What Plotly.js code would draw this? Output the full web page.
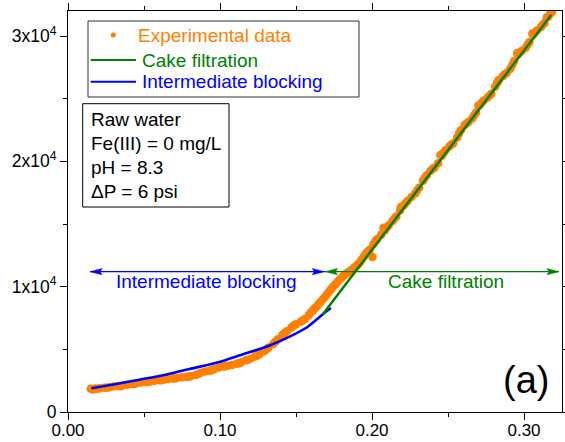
<!DOCTYPE html>
<html>
<head>
<meta charset="utf-8">
<script src="https://cdn.plot.ly/plotly-3.0.1.min.js"></script>
<style>html,body{margin:0;padding:0;background:#fff;}#chart{width:565px;height:442px;}</style>
</head>
<body>
<div id="chart"></div>
<script>
// ---- Data ----
const expX = [0.015,0.018,0.021,0.024,0.027,0.030,0.033,0.036,0.039,0.042,0.045,0.048,0.051,0.054,0.057,0.060,0.063,0.066,0.069,0.072,0.075,0.078,0.081,0.084,0.087,0.090,0.093,0.096,0.099,0.102,0.105,0.108,0.111,0.114,0.117,0.120,0.123,0.126,0.129,0.132,0.135,0.138,0.141,0.144,0.147,0.150,0.153,0.156,
  0.0165,0.0195,0.0255,0.0345,0.0435,0.0525,0.0615,0.0705,0.0795,0.0855,0.0945,0.1035,0.1125,0.1185,0.1245,0.1305,0.1365,0.1425,0.1485,0.1545,
  0.1585,0.161,0.1635,0.166,0.1685,0.171,0.1735,0.176,0.1785,0.181,0.1835,0.186,0.1885,0.191,0.1935,0.196,0.1985,
  0.1598,0.1623,0.1648,0.1673,0.1698,0.1723,0.1748,0.1773,0.1798,0.1823,0.1848,0.1873,0.1898,0.1923,0.1948,0.1973,
  0.2010,0.2035,0.2060,0.2085,0.2110,0.2135,0.2160,0.2185,0.2210,0.2235,0.2260,0.2285,0.2310,0.2335,0.2360,0.2385,0.2410,0.2435,0.2460,0.2485,0.2510,0.2535,0.2560,0.2585,0.2610,0.2635,0.2660,0.2685,0.2710,0.2735,0.2760,0.2785,0.2810,0.2835,0.2860,0.2885,0.2910,0.2935,0.2960,0.2985,0.3010,0.3035,0.3060,0.3085,0.3110,0.3135,0.3160,0.3185,
  0.2023,0.2098,0.2148,0.2223,0.2298,0.2348,0.2398,0.2473,0.2523,0.2573,0.2623,0.2673,0.2723,0.2773,0.2823,0.2873,0.2923,0.2973,0.3023,0.3073,0.3123,0.3173,
  0.2003,0.2075,0.2190,0.2450,0.2700,0.2830,0.2955,0.3055,0.3150,0.3180];
const expY = [1850,1870,1900,1940,1980,2030,2070,2110,2170,2230,2290,2350,2400,2440,2490,2540,2580,2630,2680,2730,2780,2820,2870,2960,3120,3230,3300,3420,3560,3640,3700,3760,3850,3980,4120,4250,4420,4620,4850,5150,5450,5800,6150,6450,6750,7000,7200,7450,
  1800,1860,1930,2050,2230,2390,2530,2680,2820,3030,3330,3650,3900,4170,4500,4980,5600,6300,6900,7300,
  7750,8100,8400,8750,9100,9500,9850,10200,10550,10850,11100,11300,11550,11800,12200,12650,12950,
  7950,8280,8600,8950,9300,9700,10050,10380,10700,10980,11200,11420,11680,12000,12420,12800,
  13400,13800,14150,14500,14900,15250,15600,16100,16500,16850,17150,17450,17900,18450,18900,19250,19500,19850,20450,20900,21200,21450,21900,22500,22900,23150,23450,23900,24500,24850,25100,25400,25950,26500,26800,27050,27400,28000,28550,28800,29050,29500,30100,30450,30700,31050,31550,31950,
  13650,14750,15450,16700,17700,18700,19400,20700,21350,22250,23050,23700,24700,25250,26250,26950,27700,28700,29300,30300,30900,31800,
  12370,14700,16350,20500,24450,26450,28650,30200,31500,32000];

const cakeX = [0.1674, 0.318];
const cakeY = [7765, 31708];

const interX = [0.0154,0.030,0.047,0.065,0.080,0.0996,0.1125,0.1323,0.1454,0.1565,0.1686,0.173];
const interY = [1900,2200,2580,3000,3430,4000,4500,5290,5990,6700,7900,8300];

const seriesNames = ['Experimental data', 'Cake filtration', 'Intermediate blocking'];
const seriesColors = ['#ff8000', '#008000', '#0000ff'];

const xTickVals = [0, 0.1, 0.2, 0.3];
const xTickText = ['0.00', '0.10', '0.20', '0.30'];
const yTickVals = [0, 10000, 20000, 30000];
const yTickText = ['0', '1x10<sup>4</sup>', '2x10<sup>4</sup>', '3x10<sup>4</sup>'];

const infoLines = ['Raw water', 'Fe(III) = 0 mg/L', 'pH = 8.3', '\u0394P = 6 psi'];
const panelLabel = '(a)';
const regionArrowY = 11200;
const regionSplitX = 0.169;
const regionLeftX = 0.0145;
const regionRightX = 0.323;
const regionLabels = ['Intermediate blocking', 'Cake filtration'];

// ---- Layout helpers (pixel -> paper) ----
const M = {l: 68, r: 3, t: 11, b: 30};
const W = 565 - M.l - M.r, H = 442 - M.t - M.b;
const PX = p => (p - M.l) / W;
const PY = p => (M.t + H - p) / H;
const FONT = 'Liberation Sans, Arial, Helvetica, sans-serif';

const traces = [
  {x: expX, y: expY, type: 'scatter', mode: 'markers', name: seriesNames[0],
   marker: {color: seriesColors[0], size: 8.5, line: {width: 0}}, hoverinfo: 'skip'},
  {x: interX, y: interY, type: 'scatter', mode: 'lines', name: seriesNames[2],
   line: {color: seriesColors[2], width: 2.6, shape: 'spline', smoothing: 0.8}},
  {x: cakeX, y: cakeY, type: 'scatter', mode: 'lines', name: seriesNames[1],
   line: {color: seriesColors[1], width: 2.5}}
];

const shapes = [
  {type: 'rect', xref: 'paper', yref: 'paper', x0: PX(88), x1: PX(359), y0: PY(21), y1: PY(97), line: {color: '#333', width: 1}},
  {type: 'circle', xref: 'paper', yref: 'paper', x0: PX(110.8), x1: PX(115.8), y0: PY(37.5), y1: PY(32.5), fillcolor: seriesColors[0], line: {width: 0}},
  {type: 'line', xref: 'paper', yref: 'paper', x0: PX(90.7), x1: PX(136), y0: PY(60), y1: PY(60), line: {color: seriesColors[1], width: 2}},
  {type: 'line', xref: 'paper', yref: 'paper', x0: PX(90.7), x1: PX(136), y0: PY(81.7), y1: PY(81.7), line: {color: seriesColors[2], width: 2}},
  {type: 'rect', xref: 'paper', yref: 'paper', x0: PX(82.7), x1: PX(229), y0: PY(103.7), y1: PY(207), line: {color: '#000', width: 1}},
  {type: 'line', xref: 'x', yref: 'y', x0: regionLeftX, x1: regionSplitX, y0: regionArrowY, y1: regionArrowY, line: {color: seriesColors[2], width: 1.3}},
  {type: 'line', xref: 'x', yref: 'y', x0: regionSplitX, x1: regionRightX, y0: regionArrowY, y1: regionArrowY, line: {color: seriesColors[1], width: 1.3}}
];
function head(xTip, dir, color) {
  const d = dir > 0 ? 'M0,0L-12,3.2L-10,0L-12,-3.2Z' : 'M0,0L12,3.2L10,0L12,-3.2Z';
  return {type: 'path', xref: 'x', yref: 'y', xsizemode: 'pixel', ysizemode: 'pixel',
          xanchor: xTip, yanchor: regionArrowY, path: d, fillcolor: color, line: {color: color, width: 0.5}};
}
shapes.push(head(regionLeftX, -1, seriesColors[2]));
shapes.push(head(regionSplitX - 0.0004, 1, seriesColors[2]));
shapes.push(head(regionSplitX + 0.0004, -1, seriesColors[1]));
shapes.push(head(regionRightX, 1, seriesColors[1]));

const annotations = [];
const legendRows = [[135.5, 35.5], [140, 60], [140, 82]];
[0, 1, 2].forEach(i => {
  annotations.push({xref: 'paper', yref: 'paper', x: PX(legendRows[i][0]), y: PY(legendRows[i][1]),
    xanchor: 'left', yanchor: 'middle', showarrow: false, text: seriesNames[i],
    font: {family: FONT, size: 19, color: seriesColors[i]}});
});
const infoY = [120, 143.7, 167.5, 191];
infoLines.forEach((t, i) => {
  annotations.push({xref: 'paper', yref: 'paper', x: PX(89), y: PY(infoY[i]),
    xanchor: 'left', yanchor: 'middle', showarrow: false, text: t,
    font: {family: FONT, size: 19, color: '#000'}});
});
annotations.push({xref: 'x', yref: 'y', x: 0.0912, y: 10400, showarrow: false, text: regionLabels[0],
  xanchor: 'center', yanchor: 'middle', font: {family: FONT, size: 19, color: seriesColors[2]}});
annotations.push({xref: 'x', yref: 'y', x: 0.2487, y: 10400, showarrow: false, text: regionLabels[1],
  xanchor: 'center', yanchor: 'middle', font: {family: FONT, size: 19, color: seriesColors[1]}});
annotations.push({xref: 'paper', yref: 'paper', x: PX(526), y: PY(380), showarrow: false, text: panelLabel,
  xanchor: 'center', yanchor: 'middle', font: {family: FONT, size: 38, color: '#000'}});

const axisCommon = {
  ticks: 'outside', ticklen: 7, tickwidth: 1, tickcolor: '#000',
  showline: true, linecolor: '#000', linewidth: 1, mirror: 'allticks',
  showgrid: false, zeroline: false, fixedrange: true
};

const layout = {
  width: 565, height: 442, margin: M,
  paper_bgcolor: '#fff', plot_bgcolor: '#fff', showlegend: false,
  font: {family: FONT, color: '#000'},
  xaxis: Object.assign({}, axisCommon, {
    range: [0, 0.325], tickmode: 'array', tickvals: xTickVals, ticktext: xTickText,
    tickfont: {family: FONT, size: 17, color: '#000'}, ticklabelstandoff: -4,
    minor: {tickmode: 'linear', tick0: 0, dtick: 0.05, ticks: 'outside', ticklen: 4, tickwidth: 1, tickcolor: '#000', showgrid: false}
  }),
  yaxis: Object.assign({}, axisCommon, {
    range: [0, 32000], tickmode: 'array', tickvals: yTickVals, ticktext: yTickText,
    tickfont: {family: FONT, size: 17.5, color: '#000'},
    minor: {tickmode: 'linear', tick0: 0, dtick: 5000, ticks: 'outside', ticklen: 4, tickwidth: 1, tickcolor: '#000', showgrid: false}
  }),
  shapes: shapes,
  annotations: annotations
};

Plotly.newPlot('chart', traces, layout, {displayModeBar: false, staticPlot: true});
</script>
</body>
</html>
